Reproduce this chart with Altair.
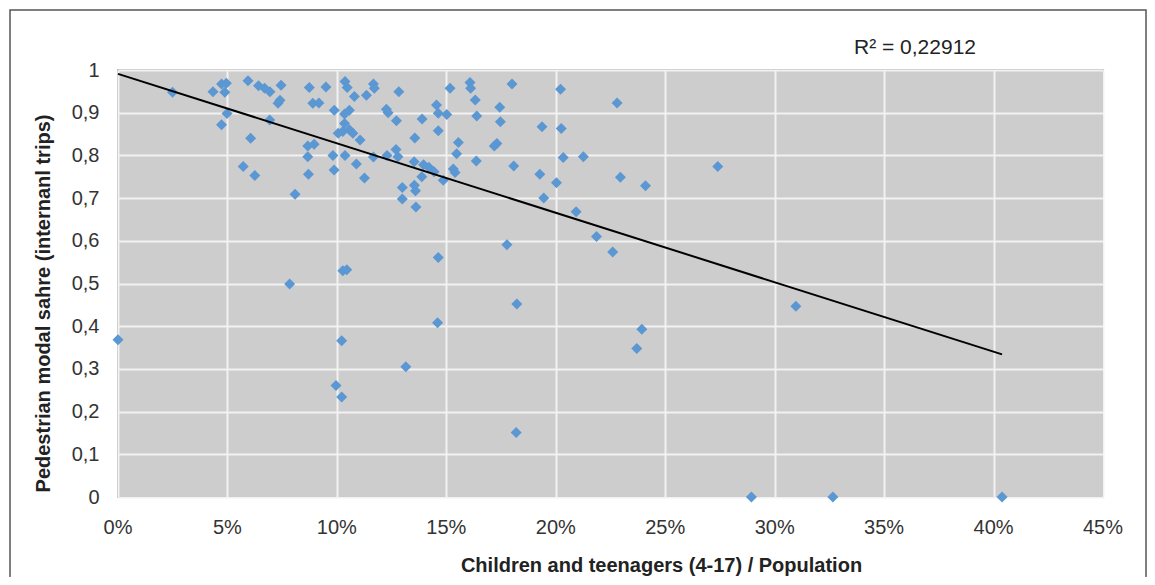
import altair as alt
import pandas as pd

# ---- data ----
share_children = [
    0.0, 2.49, 4.34, 4.73, 4.95, 4.88, 4.98, 4.73, 5.94, 6.42,
    6.70, 6.94, 7.45, 7.31, 7.40, 6.93, 6.06, 5.72, 6.25, 8.09,
    7.84, 8.74, 9.50, 8.90, 9.18, 9.88, 8.67, 8.96, 8.67, 9.82,
    10.37, 8.70, 9.87, 10.37, 10.47, 10.80, 11.35, 11.67, 11.71, 12.83,
    10.57, 10.35, 10.35, 10.27, 10.57, 10.73, 10.06, 11.06, 12.26, 12.34,
    12.72, 13.89, 14.55, 14.63, 15.02, 15.17, 16.08, 16.11, 16.32, 16.39,
    17.44, 17.47, 18.00, 20.22, 19.37, 20.25, 14.63, 13.56, 15.55, 17.31,
    17.19, 15.47, 12.70, 12.79, 12.29, 11.67, 10.89, 11.26, 13.53, 13.96,
    14.20, 14.44, 13.88, 14.86, 15.32, 15.40, 16.37, 18.08, 19.27, 20.03,
    20.34, 21.26, 12.99, 13.54, 13.59, 12.99, 13.61, 19.45, 20.93, 17.77,
    14.63, 22.80, 22.95, 24.10, 27.40, 21.86, 22.60, 30.97, 23.93, 23.70,
    28.94, 32.66, 40.39, 10.27, 10.45, 10.22, 9.96, 10.22, 18.22, 14.60,
    13.15, 18.19,
]
pedestrian_share = [
    0.368, 0.948, 0.949, 0.967, 0.969, 0.948, 0.898, 0.872, 0.975, 0.963,
    0.957, 0.949, 0.964, 0.922, 0.929, 0.883, 0.840, 0.774, 0.753, 0.709,
    0.499, 0.959, 0.960, 0.922, 0.923, 0.906, 0.822, 0.826, 0.797, 0.800,
    0.800, 0.756, 0.766, 0.973, 0.959, 0.938, 0.941, 0.967, 0.957, 0.949,
    0.906, 0.897, 0.875, 0.856, 0.860, 0.852, 0.852, 0.836, 0.908, 0.900,
    0.881, 0.885, 0.918, 0.899, 0.896, 0.957, 0.971, 0.957, 0.930, 0.892,
    0.913, 0.879, 0.967, 0.955, 0.867, 0.863, 0.858, 0.841, 0.830, 0.828,
    0.822, 0.804, 0.814, 0.797, 0.800, 0.796, 0.780, 0.747, 0.785, 0.778,
    0.772, 0.762, 0.750, 0.742, 0.768, 0.760, 0.787, 0.775, 0.756, 0.736,
    0.795, 0.797, 0.725, 0.730, 0.717, 0.698, 0.679, 0.700, 0.668, 0.591,
    0.561, 0.923, 0.749, 0.729, 0.774, 0.610, 0.574, 0.447, 0.393, 0.348,
    0.0, 0.0, 0.0, 0.530, 0.532, 0.366, 0.261, 0.234, 0.452, 0.408,
    0.305, 0.151,
]
trend_x = [0.0, 40.39]
trend_y = [0.991, 0.334]
x_tick_values = [0, 5, 10, 15, 20, 25, 30, 35, 40, 45]
x_tick_labels = ["0%", "5%", "10%", "15%", "20%", "25%", "30%", "35%", "40%", "45%"]
y_tick_values = [0, 0.1, 0.2, 0.3, 0.4, 0.5, 0.6, 0.7, 0.8, 0.9, 1]
r2_label = ["R\u00b2 = 0,22912"]
x_title = "Children and teenagers (4-17) / Population"
y_title = "Pedestrian modal sahre (internanl trips)"

FONT = "Liberation Sans"
W, H = 985, 427

pts = pd.DataFrame({"x": share_children, "y": pedestrian_share})
trend = pd.DataFrame({"x": trend_x, "y": trend_y})
xlabs = pd.DataFrame({"v": x_tick_values, "t": x_tick_labels})
r2 = pd.DataFrame({"t": r2_label})

xscale = alt.Scale(domain=[0, 45], nice=False, zero=False)
yscale = alt.Scale(domain=[0, 1], nice=False)

x_axis = alt.Axis(
    values=x_tick_values, labels=False, ticks=False, domain=False,
    grid=True, gridColor="#f2f2f2", gridWidth=2,
    title=x_title, titleFont=FONT, titleFontSize=20, titleFontWeight="bold",
    titleColor="#222222", titleX=543, titleY=68, titleAlign="center",
    titleBaseline="middle",
)
y_axis = alt.Axis(
    values=y_tick_values,
    labelExpr="replace(format(datum.value, '.1~f'), '.', ',')",
    labelFont=FONT, labelFontSize=20, labelColor="#333333", labelPadding=19,
    ticks=False, domain=False, grid=True, gridColor="#f2f2f2", gridWidth=2,
    title=y_title, titleFont=FONT, titleFontSize=20, titleFontWeight="bold",
    titleColor="#222222", titleX=-75, titleY=233, titleAlign="center",
    titleBaseline="middle", titleAngle=270,
)

frame = alt.Chart(r2).mark_rect(
    fillOpacity=0, stroke="#555555", strokeWidth=1.5
).encode(
    x=alt.value(-108), x2=alt.value(1028), y=alt.value(-60), y2=alt.value(620)
)

points = alt.Chart(pts).mark_point(
    shape="diamond", filled=True, size=121, color="#5a97d3", opacity=1
).encode(
    x=alt.X("x:Q", scale=xscale, axis=x_axis),
    y=alt.Y("y:Q", scale=yscale, axis=y_axis),
)

line = alt.Chart(trend).mark_line(color="#000000", strokeWidth=2).encode(
    x=alt.X("x:Q", scale=xscale, axis=x_axis),
    y=alt.Y("y:Q", scale=yscale, axis=y_axis),
)

xlabels = alt.Chart(xlabs).mark_text(
    font=FONT, fontSize=20, color="#333333", align="center", baseline="middle"
).encode(
    x=alt.X("v:Q", scale=xscale, axis=x_axis),
    y=alt.value(H + 31),
    text="t:N",
)

r2text = alt.Chart(r2).mark_text(
    font=FONT, fontSize=21, color="#222222", align="center", baseline="middle"
).encode(x=alt.value(797), y=alt.value(-22), text="t:N")

chart = alt.layer(frame, points, line, xlabels, r2text).properties(
    width=W, height=H,
    padding={"left": 110, "top": 62, "right": 44, "bottom": 80},
    autosize=alt.AutoSizeParams(type="none"),
    background="#ffffff",
).configure_view(fill="#cdcdcd", stroke="#9a9a9a", strokeWidth=1.5)

chart.save("out.html", embed_options={"renderer": "svg", "actions": False})
